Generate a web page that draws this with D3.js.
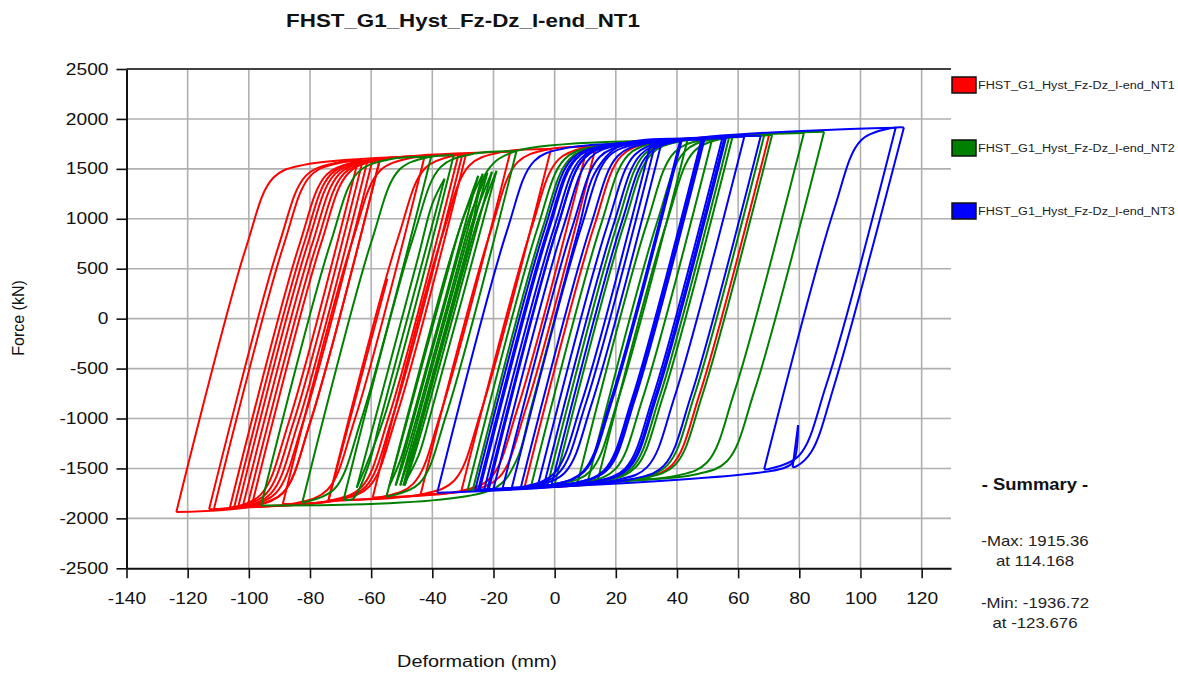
<!DOCTYPE html>
<html><head><meta charset="utf-8">
<script src="https://cdn.jsdelivr.net/npm/d3@7"></script>
<style>body{margin:0;background:#fff;} svg{display:block;font-family:"Liberation Sans",Arial,sans-serif;}</style>
</head><body><svg id="c" width="1178" height="675"></svg>
<script>
const chartTitle = "FHST_G1_Hyst_Fz-Dz_I-end_NT1";
const xTitle = "Deformation (mm)";
const yTitle = "Force (kN)";
const xTicks = [-140,-120,-100,-80,-60,-40,-20,0,20,40,60,80,100,120];
const yTicks = [-2500,-2000,-1500,-1000,-500,0,500,1000,1500,2000,2500];
const seriesNames = ["FHST_G1_Hyst_Fz-Dz_I-end_NT1","FHST_G1_Hyst_Fz-Dz_I-end_NT2","FHST_G1_Hyst_Fz-Dz_I-end_NT3"];
const seriesColors = ["#ff0000","#008000","#0000ff"];
const summaryLines = ["-Max: 1915.36","at 114.168","-Min: -1936.72","at -123.676"];

// [deformation (mm), force (kN)]
const redData = [
[-9.8,-1682],[12.9,925],[21.9,1633],[31.9,1762],
[70.1,1837],[47.4,-756],[38.4,-1466],[28.4,-1598],
[-30.5,-1727],[-7.8,885],[1.2,1593],[11.2,1722],
[13.5,1726],[-9.2,-880],[-18.2,-1590],[-28.2,-1722],
[-43.8,-1756],[-21.1,859],[-12.1,1567],[-2.1,1696],
[10.7,1721],[-12,-886],[-21,-1596],[-31,-1728],
[-59.5,-1791],[-36.8,828],[-27.8,1536],[-17.8,1665],
[-1.2,1698],[-23.9,-913],[-32.9,-1623],[-42.9,-1755],
[-74,-1823],[-51.3,800],[-42.3,1508],[-32.3,1637],
[-29,1643],[-51.7,-974],[-60.7,-1684],[-70.7,-1816],
[-88.9,-1856],[-66.2,771],[-57.2,1479],[-47.2,1608],
[-42.6,1617],[-65.3,-1004],[-74.3,-1714],[-84.3,-1846],
[-100.5,-1881],[-77.8,748],[-68.8,1456],[-58.8,1585],
[-57.2,1588],[-79.9,-1036],[-88.9,-1746],[-98.9,-1878],
[-123.7,-1936.7],[-101,703],[-92,1411],[-82,1540],
[-31.5,1639],[-54.2,-979],[-63.2,-1689],[-73.2,-1821],
[-106.2,-1894],[-83.5,737],[-74.5,1445],[-64.5,1574],
[-61.2,1581],[-83.9,-1045],[-92.9,-1755],[-102.9,-1887],
[-113,-1909],[-90.3,724],[-81.3,1432],[-71.3,1561],
[-64.4,1574],[-87.1,-1052],[-96.1,-1762],[-106.1,-1894],
[-111.4,-1905],[-88.7,727],[-79.7,1435],[-69.7,1564],
[-62.8,1578],[-85.5,-1048],[-94.5,-1758],[-104.5,-1890],
[-104.8,-1891],[-82.1,740],[-73.1,1448],[-63.1,1577],
[-30.2,1641],[-52.9,-976],[-61.9,-1686],[-71.9,-1818],
[-103.5,-1888],[-80.8,742],[-71.8,1450],[-61.8,1579],
[-59.6,1584],[-82.3,-1041],[-91.3,-1751],[-101.3,-1883],
[-102,-1884],[-79.3,745],[-70.3,1453],[-60.3,1582],
[-57.2,1588],[-79.9,-1036],[-88.9,-1746],[-98.9,-1878],
[-99.1,-1879],[-76.4,751],[-67.4,1459],[-57.4,1588],
[-14.5,1672],[-37.2,-942],[-46.2,-1652],[-56.2,-1784],
[-74,-1823],[-54.7,400]
];
const greenData = [
[0,0],[-8,-930],[-12.5,-1420],[-20,-1704],
[-96,-1871],[-73.3,757],[-64.3,1465],[-54.3,1594],
[-40.4,1621],[-63.1,-999],[-72.1,-1709],[-82.1,-1841],
[-82.5,-1842],[-59.8,783],[-50.8,1491],[-40.8,1620],
[-33,1636],[-55.7,-983],[-64.7,-1693],
[-44.7,607],[-40,1150],[-36,1400],
[-57,-1015],[-61,-1480],[-66,-1805],[-69,-1812],
[-46.3,809],[-37.3,1517],[-27.3,1646],
[-12.5,1676],[-35.2,-938],[-44.2,-1648],[-54.2,-1779],
[-55,-1781],[-35.5,460],[-30,1000],[-25,1430],
[-46.5,-1000],[-50.5,-1420],[-54,-1670],
[-35,470],[-30,1000],[-23.5,1450],
[-45,-980],[-49,-1400],[-52,-1670],
[-33,470],[-28,1000],[-22,1460],
[-43.5,-970],[-47.5,-1390],[-50.5,-1670],
[-31.5,470],[-26.5,1000],[-20.5,1470],
[-42,-960],[-46,-1380],[-49,-1670],
[-30,470],[-25,1000],[-19,1480],
[-40.5,-950],[-44.5,-1370],[-49.5,-1670],
[-28.5,700],[-22,1480],[-13,1675],
[43.4,1785],[20.7,-815],[11.7,-1525],[1.7,-1657],
[-28.5,-1723],[-5.8,888],[3.2,1596],[13.2,1725],
[51.5,1800],[28.8,-797],[19.8,-1507],[9.8,-1639],
[-26.8,-1719],[-4.1,892],[4.9,1600],[14.9,1729],
[57,1811],[34.3,-785],[25.3,-1495],[15.3,-1627],
[-7.7,-1677],[15,929],[24,1637],[34,1766],
[58.1,1813],[35.4,-782],[26.4,-1492],[16.4,-1624],
[-2.3,-1665],[20.4,940],[29.4,1648],[39.4,1777],
[68.5,1834],[45.8,-759],[36.8,-1469],[26.8,-1601],
[0,-1660],[22.7,944],[31.7,1652],[41.7,1781],
[71.1,1839],[48.4,-754],[39.4,-1464],[29.4,-1596],
[7.5,-1644],[30.2,959],[39.2,1667],[49.2,1796],
[81.5,1859],[58.8,-731],[49.8,-1441],[39.8,-1573],
[10.8,-1636],[33.5,965],[42.5,1673],[52.5,1802],
[88.1,1872],[65.4,-716],[56.4,-1426],[46.4,-1558],
[14,-1629],[36.7,971],[45.7,1679],[55.7,1808],[60,1817]
];
const blueData = [
[0,0],[8,920],[13,1450],[22,1743],
[48,1794],[25.3,-804],[16.3,-1514],[6.3,-1646],
[-24.5,-1714],[-1.8,896],[7.2,1604],[17.2,1733],
[62,1821],[39.3,-774],[30.3,-1484],[20.3,-1616],
[-38.4,-1744],[-15.7,869],[-6.7,1577],[3.3,1706],
[31.5,1761],[8.8,-841],[-0.2,-1551],[-10.2,-1683],
[-23,-1711],[-0.3,899],[8.7,1607],[18.7,1736],
[67.4,1831],[44.7,-762],[35.7,-1472],[25.7,-1604],
[-21.5,-1707],[0.8,902],[9.8,1610],[19.8,1739],
[55.5,1808],[32.8,-788],[23.8,-1498],[13.8,-1630],
[-20,-1704],[2.7,905],[11.7,1613],[21.7,1742],
[48.5,1795],[25.8,-803],[16.8,-1513],[6.8,-1645],
[-25,-1715],[-2.3,895],[6.7,1603],[16.7,1732],
[33,1764],[10.3,-837],[1.3,-1547],[-8.7,-1679],
[-17,-1697],[5.7,911],[14.7,1619],[24.7,1748],
[41,1780],[18.3,-820],[9.3,-1530],[-0.7,-1662],
[-14,-1691],[8.7,917],[17.7,1625],[27.7,1754],
[35,1768],[12.3,-833],[3.3,-1543],[-6.7,-1675],
[-11,-1684],[11.7,923],[20.7,1631],[30.7,1760],
[56,1809],[33.3,-787],[24.3,-1497],[14.3,-1629],
[-5.5,-1672],[17.2,933],[26.2,1641],[36.2,1770],
[49,1796],[26.3,-802],[17.3,-1512],[7.3,-1644],
[-3.5,-1668],[19.2,937],[28.2,1645],[38.2,1774],
[54.8,1807],[32.1,-789],[23.1,-1499],[13.1,-1631],
[-1,-1662],[21.7,942],[30.7,1650],[40.7,1779],
[111.5,1911],[88.8,-665],[79.8,-1375],[69.8,-1507],
[68.5,-1509],[91.2,1078],[100.2,1786],[110.2,1908],
[114.2,1915.4],[91.5,-659],[84,-1330],[79,-1480],[77.8,-1489],
[79.6,-1066],[78.2,-1420],[75,-1495],
[-26,-1717],[-3.3,893],[5.7,1601],[15.7,1730],
[41.5,1781],[18.8,-819],[9.8,-1529],[-0.2,-1660],
[-22,-1708],[0.7,901],[9.7,1609],[19.7,1738],[30,1758]
];
const seriesData = [redData, greenData, blueData];

const svg = d3.select("#c");
const SX = 1.2; // horizontal text stretch of the original
const x = d3.scaleLinear().domain([-140,129.6]).range([126.5,951]);
const y = d3.scaleLinear().domain([-2500,2500]).range([568.3,69]);
const x0 = x.range()[0], x1 = x.range()[1], yTop = y.range()[1], yBot = y.range()[0];
const fmt = d => String(d);

function fitText(sel, width){
  const n = sel.node(); const w = n.getComputedTextLength();
  const xx = +sel.attr("x"), yy = +sel.attr("y");
  sel.attr("x",0).attr("y",0).attr("transform",`translate(${xx},${yy}) scale(${width/w},1)`);
}
function stretch(sel, s){
  const xx = +sel.attr("x"), yy = +sel.attr("y");
  sel.attr("x",0).attr("y",0).attr("transform",`translate(${xx},${yy}) scale(${s},1)`);
}

// grid
const grid = svg.append("g");
grid.selectAll("line.v").data(xTicks.filter(t=>t!==-140)).join("line")
  .attr("x1",d=>x(d)).attr("x2",d=>x(d)).attr("y1",yTop).attr("y2",yBot)
  .attr("stroke","#b0b0b0").attr("stroke-width",1.6);
grid.selectAll("line.h").data(yTicks.filter(t=>t!==-2500 && t!==2500)).join("line")
  .attr("x1",x0).attr("x2",x1).attr("y1",d=>y(d)).attr("y2",d=>y(d))
  .attr("stroke","#b0b0b0").attr("stroke-width",1.6);
grid.append("line").attr("x1",x0).attr("x2",x1).attr("y1",yTop).attr("y2",yTop)
  .attr("stroke","#404040").attr("stroke-width",2);

// series
const line = d3.line().x(d=>x(d[0])).y(d=>y(d[1])).curve(d3.curveCatmullRom.alpha(0.5));
function pieces(pts){
  const out=[]; let cur=[pts[0]]; let dir=0;
  for(let i=1;i<pts.length;i++){
    const d=Math.sign(pts[i][1]-pts[i-1][1]);
    if(d!==0 && dir!==0 && d!==dir){ out.push(cur); cur=[pts[i-1]]; }
    if(d!==0) dir=d;
    cur.push(pts[i]);
  }
  out.push(cur); return out;
}
svg.append("defs").append("clipPath").attr("id","clip").append("rect")
  .attr("x",x0).attr("y",yTop).attr("width",x1-x0).attr("height",yBot-yTop);
const plot = svg.append("g").attr("clip-path","url(#clip)");
seriesData.forEach((data,i)=>{
  plot.append("g").selectAll("path").data(pieces(data)).join("path")
    .attr("d",line).attr("fill","none").attr("stroke",seriesColors[i])
    .attr("stroke-width",2).attr("stroke-linejoin","round");
});

// axes
const yAxis = svg.append("g").attr("transform",`translate(${x0},0)`)
  .call(d3.axisLeft(y).tickValues(yTicks).tickFormat(fmt).tickSize(10).tickSizeOuter(0).tickPadding(8));
const xAxis = svg.append("g").attr("transform",`translate(0,${yBot})`)
  .call(d3.axisBottom(x).tickValues(xTicks).tickFormat(fmt).tickSize(10).tickSizeOuter(0).tickPadding(14));
[yAxis,xAxis].forEach(a=>{
  a.select(".domain").attr("stroke","#111").attr("stroke-width",2);
  a.selectAll(".tick line").attr("stroke","#111").attr("stroke-width",1.6);
  a.selectAll("text").attr("font-size",16).attr("fill","#111").attr("font-family","Liberation Sans, Arial, sans-serif");
});
yAxis.selectAll(".tick text").each(function(){
  const t=d3.select(this); const xx=+t.attr("x");
  t.attr("x",0).attr("transform",`translate(${xx},0) scale(${SX},1)`);
});
xAxis.selectAll(".tick text").attr("transform",`scale(${SX},1)`);

// titles
const title = svg.append("text").attr("x",463).attr("y",27).attr("text-anchor","middle")
  .attr("font-size",18).attr("font-weight","bold").attr("fill","#111").text(chartTitle);
fitText(title,354);
const xt = svg.append("text").attr("x",477).attr("y",667).attr("text-anchor","middle")
  .attr("font-size",16).attr("fill","#111").text(xTitle);
fitText(xt,160);
svg.append("text").attr("transform","translate(24,318) rotate(-90)").attr("text-anchor","middle")
  .attr("font-size",16).attr("fill","#111").text(yTitle);

// legend
const legY = [77,140,203];
seriesNames.forEach((n,i)=>{
  svg.append("rect").attr("x",952).attr("y",legY[i]).attr("width",24).attr("height",16)
    .attr("fill",seriesColors[i]).attr("stroke","#111").attr("stroke-width",1.5);
  const t = svg.append("text").attr("x",978).attr("y",legY[i]+12).attr("font-size",11)
    .attr("fill","#222").text(n);
  fitText(t,197);
});

// summary
const sh = svg.append("text").attr("x",1035).attr("y",490).attr("text-anchor","middle")
  .attr("font-size",16).attr("font-weight","bold").attr("fill","#111").text("- Summary -");
stretch(sh,1.15);
const sumY = [546,566,608,628];
summaryLines.forEach((s,i)=>{
  const t = svg.append("text").attr("x",1035).attr("y",sumY[i]).attr("text-anchor","middle")
    .attr("font-size",14).attr("fill","#222").text(s);
  stretch(t,1.2);
});
</script></body></html>
